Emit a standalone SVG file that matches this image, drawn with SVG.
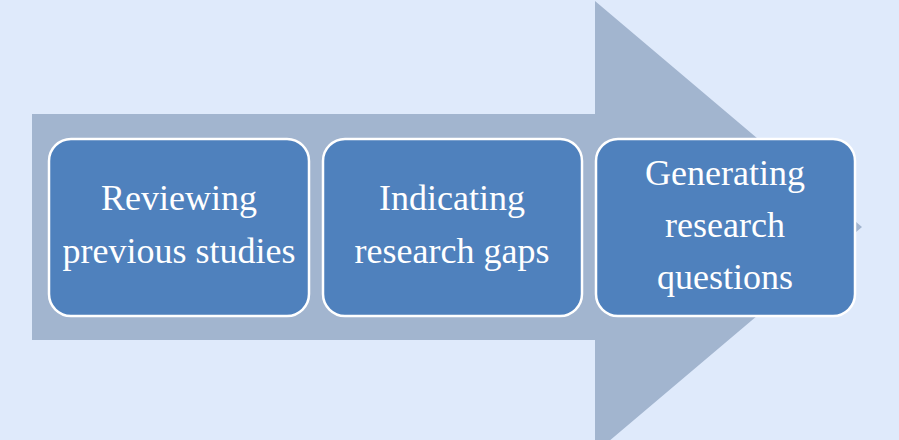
<svg xmlns="http://www.w3.org/2000/svg" width="899" height="440" viewBox="0 0 899 440">
  <style>
    .box { fill: #4f81bd; stroke: #ffffff; stroke-width: 2.5; }
    .lbl { font-family: "Liberation Serif", "Times New Roman", serif; font-size: 36px; fill: #ffffff; text-anchor: middle; }
  </style>
  <rect x="0" y="0" width="899" height="440" fill="#dfeafb"/>
  <g id="connectors">
    <path d="M32 114 H595 V1 L862 227 L595 453 V340 H32 Z" fill="#a2b5cf"/>
  </g>
  <g id="node1">
    <rect class="box" x="49" y="139" width="260" height="177" rx="22"/>
    <text class="lbl" x="179" y="210">Reviewing</text>
    <text class="lbl" x="179" y="263">previous studies</text>
  </g>
  <g id="node2">
    <rect class="box" x="323" y="139" width="259" height="177" rx="22"/>
    <text class="lbl" x="452" y="210">Indicating</text>
    <text class="lbl" x="452" y="263">research gaps</text>
  </g>
  <g id="node3">
    <rect class="box" x="596" y="139" width="259" height="177" rx="22"/>
    <text class="lbl" x="725" y="185">Generating</text>
    <text class="lbl" x="725" y="237">research</text>
    <text class="lbl" x="725" y="289">questions</text>
  </g>
</svg>
